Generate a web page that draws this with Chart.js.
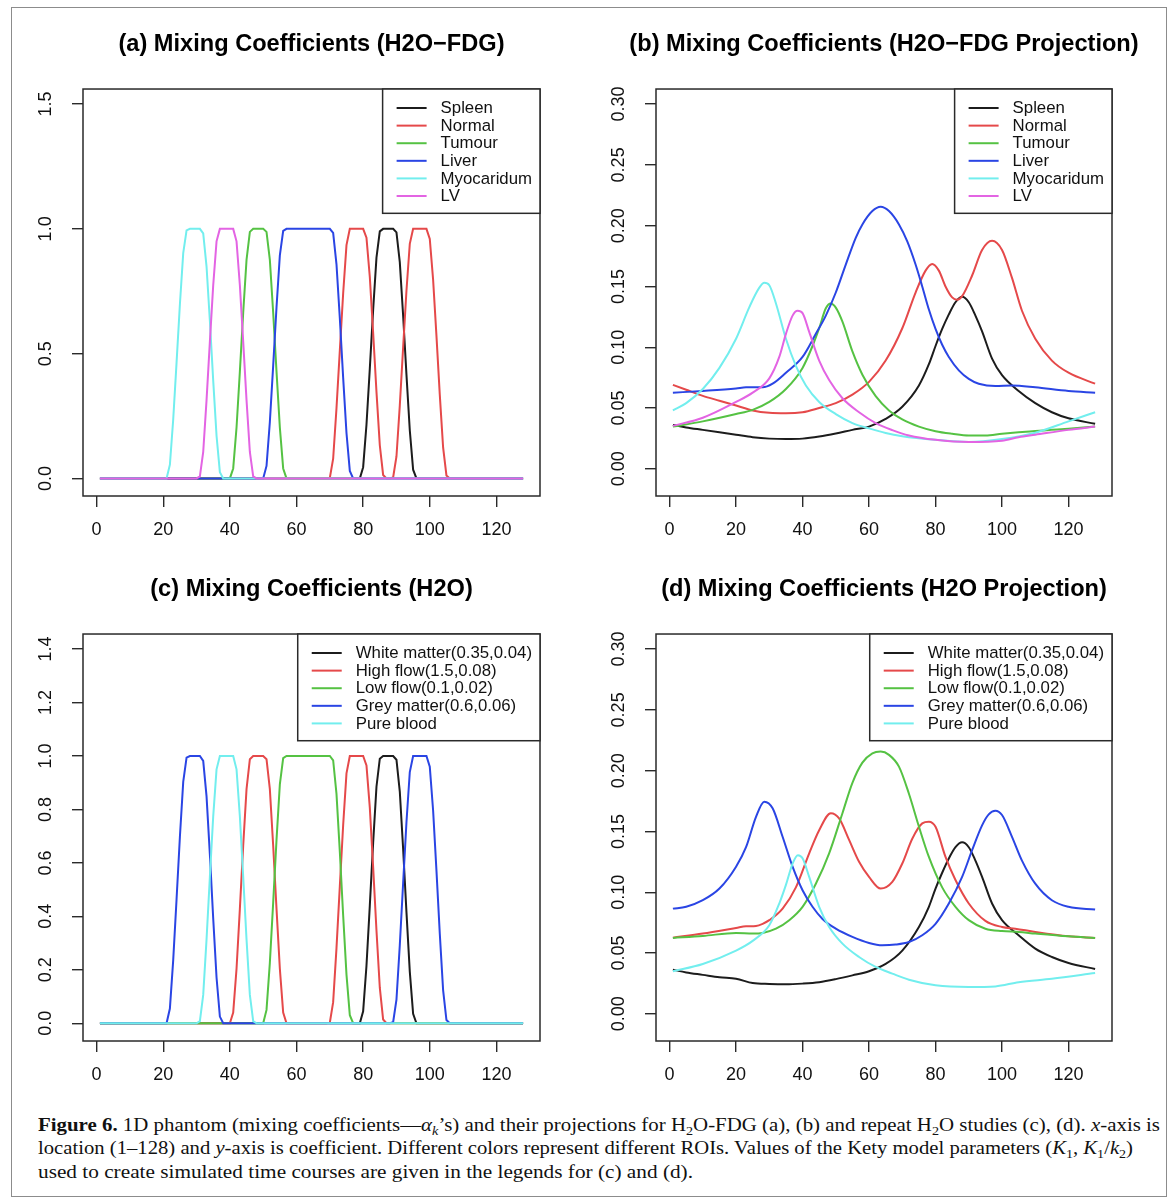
<!DOCTYPE html>
<html>
<head>
<meta charset="utf-8">
<script src="https://cdn.jsdelivr.net/npm/chart.js@4.4.1/dist/chart.umd.min.js"></script>
<style>
  html, body { margin: 0; padding: 0; background: #fff; }
  #page { position: relative; width: 1173px; height: 1200px; overflow: hidden; background: #fff; }
  #frame { position: absolute; left: 11px; top: 7px; width: 1154px; height: 1188px; border: 1.5px solid #8c8c8c; }
  canvas { position: absolute; }
  .cap { position: absolute; left: 38px; white-space: nowrap; font-family: 'Liberation Serif', 'Times New Roman', serif;
         font-size: 19px; line-height: 24px; color: #111; transform-origin: 0 50%; }
  .cap sub { font-size: 0.68em; vertical-align: -0.28em; line-height: 0; }
</style>
</head>
<body>
<div id="page">
  <div id="frame"></div>
  <canvas id="pa" width="617" height="545" style="left:3px;top:0px;width:617px;height:545px"></canvas>
  <canvas id="pb" width="616" height="545" style="left:576px;top:0px;width:616px;height:545px"></canvas>
  <canvas id="pc" width="617" height="545" style="left:3px;top:545px;width:617px;height:545px"></canvas>
  <canvas id="pd" width="616" height="545" style="left:576px;top:545px;width:616px;height:545px"></canvas>
  <div class="cap" id="cap1" data-w="1122" style="top:1113px"><b>Figure 6.</b> 1D phantom (mixing coefficients—<i>α</i><sub><i>k</i></sub>’s) and their projections for H<sub>2</sub>O-FDG (a), (b) and repeat H<sub>2</sub>O studies (c), (d). <i>x</i>-axis is</div>
  <div class="cap" id="cap2" data-w="1095" style="top:1136px">location (1–128) and <i>y</i>-axis is coefficient. Different colors represent different ROIs. Values of the Kety model parameters (<i>K</i><sub>1</sub>, <i>K</i><sub>1</sub>/<i>k</i><sub>2</sub>)</div>
  <div class="cap" id="cap3" data-w="655" style="top:1160px">used to create simulated time courses are given in the legends for (c) and (d).</div>
</div>
<script>
// ---------- axis ticks ----------
const xTicks = [0, 20, 40, 60, 80, 100, 120];
const xTickLabels = ['0', '20', '40', '60', '80', '100', '120'];
const yTicksA = [0, 0.5, 1.0, 1.5];
const yTickLabelsA = ['0.0', '0.5', '1.0', '1.5'];
const yTicksC = [0, 0.2, 0.4, 0.6, 0.8, 1.0, 1.2, 1.4];
const yTickLabelsC = ['0.0', '0.2', '0.4', '0.6', '0.8', '1.0', '1.2', '1.4'];
const yTicksProj = [0, 0.05, 0.10, 0.15, 0.20, 0.25, 0.30];
const yTickLabelsProj = ['0.00', '0.05', '0.10', '0.15', '0.20', '0.25', '0.30'];

// ---------- legend labels ----------
const labelsFDG = ['Spleen', 'Normal', 'Tumour', 'Liver', 'Myocaridum', 'LV'];
const labelsH2O = ['White matter(0.35,0.04)', 'High flow(1.5,0.08)', 'Low flow(0.1,0.02)', 'Grey matter(0.6,0.06)', 'Pure blood'];
const seriesColors = ['#1c1c1c', '#e5494a', '#55c243', '#2a45e4', '#72eeee', '#e364e3'];

// ---------- (a) mixing coefficients, H2O-FDG  [location, coefficient] ----------
const spleenA = [[1,0],[79,0],[80,0.045],[81,0.215],[82,0.44],[83,0.675],[84,0.885],[85,0.99],[86,1],[87,1],[88,1],[89,1],[90,0.986],[91,0.867],[92,0.653],[93,0.416],[94,0.193],[95,0.035],[96,0],[128,0]];
const normalA = [[1,0],[69,0],[70,0.002],[71,0.079],[72,0.281],[73,0.512],[74,0.741],[75,0.935],[76,1],[77,1],[78,1],[79,1],[80,1],[81,0.965],[82,0.807],[83,0.584],[84,0.347],[85,0.133],[86,0.014],[87,0],[88,0],[89,0.004],[90,0.088],[91,0.292],[92,0.524],[93,0.752],[94,0.94],[95,1],[96,1],[97,1],[98,1],[99,1],[100,0.96],[101,0.796],[102,0.572],[103,0.336],[104,0.124],[105,0.012],[106,0],[128,0]];
const tumourA = [[1,0],[40,0],[41,0.04],[42,0.204],[43,0.428],[44,0.664],[45,0.876],[46,0.988],[47,1],[48,1],[49,1],[50,1],[51,0.988],[52,0.876],[53,0.664],[54,0.428],[55,0.204],[56,0.04],[57,0],[128,0]];
const liverA = [[1,0],[50,0],[51,0.05],[52,0.226],[53,0.452],[54,0.686],[55,0.894],[56,0.992],[57,1],[70,1],[71,0.984],[72,0.858],[73,0.642],[74,0.404],[75,0.182],[76,0.03],[77,0],[128,0]];
const myocardA = [[1,0],[21,0],[22,0.055],[23,0.237],[24,0.464],[25,0.697],[26,0.903],[27,0.994],[28,1],[29,1],[30,1],[31,1],[32,0.982],[33,0.849],[34,0.631],[35,0.392],[36,0.171],[37,0.025],[38,0],[128,0]];
const lvA = [[1,0],[30,0],[31,0.008],[32,0.106],[33,0.314],[34,0.548],[35,0.774],[36,0.95],[37,1],[38,1],[39,1],[40,1],[41,1],[42,0.95],[43,0.774],[44,0.548],[45,0.314],[46,0.106],[47,0.008],[48,0],[128,0]];

// ---------- (b) projection, H2O-FDG ----------
const spleenB = [[1,0.036],[5,0.034],[10,0.032],[15,0.030],[20,0.028],[25,0.026],[30,0.0248],[35,0.0244],[40,0.0248],[45,0.0265],[50,0.029],[55,0.032],[60,0.0347],[65,0.041],[70,0.051],[75,0.0685],[78,0.086],[80,0.101],[82,0.115],[84,0.127],[86,0.137],[88,0.1415],[90,0.137],[92,0.126],[94,0.113],[97,0.0906],[100,0.077],[105,0.064],[110,0.054],[115,0.0465],[120,0.0415],[128,0.037]];
const normalB = [[1,0.069],[5,0.065],[10,0.060],[15,0.056],[20,0.052],[25,0.048],[30,0.046],[35,0.0456],[40,0.0465],[45,0.050],[50,0.054],[55,0.061],[60,0.0715],[65,0.089],[70,0.1156],[74,0.145],[77,0.163],[79,0.1685],[81,0.163],[83,0.150],[85,0.141],[86.5,0.139],[88,0.142],[91,0.159],[94,0.180],[97,0.1876],[100,0.180],[103,0.157],[106,0.130],[110,0.107],[115,0.089],[120,0.079],[128,0.070]];
const tumourB = [[1,0.0347],[10,0.039],[20,0.045],[25,0.0485],[30,0.055],[35,0.0656],[40,0.083],[43,0.101],[45,0.1156],[47,0.132],[48.5,0.136],[50,0.1326],[52,0.121],[55,0.0965],[58,0.0774],[62,0.0597],[66,0.048],[70,0.0406],[75,0.0347],[80,0.0309],[85,0.0288],[90,0.0274],[95,0.0274],[100,0.0288],[105,0.030],[110,0.031],[115,0.032],[120,0.033],[128,0.0347]];
const liverB = [[1,0.0626],[10,0.064],[20,0.066],[23,0.067],[28,0.067],[31,0.070],[35,0.079],[40,0.092],[44,0.111],[47,0.126],[50,0.145],[53,0.168],[56,0.19],[58,0.201],[61,0.212],[63.5,0.2156],[66,0.212],[69,0.201],[71.5,0.187],[74,0.168],[76,0.15],[78,0.131],[80,0.115],[82,0.102],[84,0.092],[87,0.081],[90,0.074],[93,0.070],[98,0.068],[103,0.0685],[110,0.067],[120,0.064],[128,0.0626]];
const myocardB = [[1,0.048],[5,0.054],[10,0.0656],[15,0.083],[20,0.107],[24,0.133],[27,0.149],[28.5,0.153],[30,0.151],[32,0.136],[35,0.107],[38,0.0847],[41,0.0685],[45,0.055],[50,0.045],[55,0.0376],[60,0.0332],[65,0.0294],[70,0.0268],[80,0.0238],[90,0.022],[100,0.0244],[110,0.0297],[120,0.039],[128,0.0465]];
const lvB = [[1,0.0353],[10,0.042],[20,0.055],[25,0.0626],[30,0.0744],[33,0.092],[35,0.111],[37,0.126],[38.5,0.130],[40,0.128],[42,0.1126],[45,0.089],[48,0.073],[52,0.058],[57,0.0465],[62,0.0376],[67,0.0318],[72,0.0274],[80,0.0238],[90,0.022],[100,0.023],[105,0.026],[110,0.028],[120,0.032],[128,0.0347]];

// ---------- (c) mixing coefficients, H2O ----------
const whiteC = [[1,0],[79,0],[80,0.045],[81,0.215],[82,0.44],[83,0.675],[84,0.885],[85,0.99],[86,1],[87,1],[88,1],[89,1],[90,0.986],[91,0.867],[92,0.653],[93,0.416],[94,0.193],[95,0.035],[96,0],[128,0]];
const highC = [[1,0],[40,0],[41,0.04],[42,0.204],[43,0.428],[44,0.664],[45,0.876],[46,0.988],[47,1],[48,1],[49,1],[50,1],[51,0.988],[52,0.876],[53,0.664],[54,0.428],[55,0.204],[56,0.04],[57,0],[69,0],[70,0.002],[71,0.079],[72,0.281],[73,0.512],[74,0.741],[75,0.935],[76,1],[77,1],[78,1],[79,1],[80,1],[81,0.965],[82,0.807],[83,0.584],[84,0.347],[85,0.133],[86,0.014],[87,0],[128,0]];
const lowC = [[1,0],[50,0],[51,0.05],[52,0.226],[53,0.452],[54,0.686],[55,0.894],[56,0.992],[57,1],[70,1],[71,0.984],[72,0.858],[73,0.642],[74,0.404],[75,0.182],[76,0.03],[77,0],[128,0]];
const greyC = [[1,0],[21,0],[22,0.055],[23,0.237],[24,0.464],[25,0.697],[26,0.903],[27,0.994],[28,1],[29,1],[30,1],[31,1],[32,0.982],[33,0.849],[34,0.631],[35,0.392],[36,0.171],[37,0.025],[38,0],[88,0],[89,0.004],[90,0.088],[91,0.292],[92,0.524],[93,0.752],[94,0.94],[95,1],[96,1],[97,1],[98,1],[99,1],[100,0.96],[101,0.796],[102,0.572],[103,0.336],[104,0.124],[105,0.012],[106,0],[128,0]];
const bloodC = [[1,0],[30,0],[31,0.008],[32,0.106],[33,0.314],[34,0.548],[35,0.774],[36,0.95],[37,1],[38,1],[39,1],[40,1],[41,1],[42,0.95],[43,0.774],[44,0.548],[45,0.314],[46,0.106],[47,0.008],[48,0],[128,0]];

// ---------- (d) projection, H2O ----------
const whiteD = [[1,0.0363],[5,0.034],[10,0.032],[15,0.030],[20,0.0288],[25,0.0253],[30,0.0245],[35,0.0242],[40,0.0248],[45,0.026],[50,0.0285],[55,0.0316],[60,0.035],[65,0.041],[70,0.052],[75,0.0714],[78,0.088],[80,0.103],[82,0.116],[84,0.1277],[86,0.137],[88,0.141],[90,0.137],[92,0.126],[94,0.1126],[97,0.0907],[100,0.077],[105,0.0646],[110,0.0536],[115,0.0467],[120,0.0418],[128,0.0368]];
const highD = [[1,0.0626],[10,0.066],[20,0.0706],[23,0.072],[26,0.0723],[28,0.074],[30,0.077],[34,0.0865],[38,0.104],[42,0.132],[45,0.151],[48.5,0.165],[51,0.1607],[54,0.143],[57,0.125],[60,0.1126],[63.5,0.103],[67,0.1085],[70,0.1236],[73,0.144],[76,0.1566],[78,0.158],[80,0.1538],[83,0.129],[86,0.11],[90,0.0907],[95,0.0764],[100,0.0714],[104,0.070],[110,0.0673],[120,0.0637],[128,0.0624]];
const lowD = [[1,0.0624],[10,0.064],[20,0.0665],[25,0.066],[28,0.0665],[32,0.070],[36,0.077],[40,0.088],[44,0.107],[48,0.132],[52,0.165],[55,0.19],[58,0.2066],[61,0.2143],[63.5,0.2157],[66,0.213],[69,0.2033],[72,0.181],[75,0.154],[78,0.129],[82,0.104],[86,0.088],[90,0.077],[95,0.070],[100,0.068],[105,0.0673],[110,0.066],[120,0.0637],[128,0.0624]];
const greyD = [[1,0.0865],[5,0.088],[10,0.0934],[15,0.103],[20,0.121],[23,0.137],[26,0.162],[28.5,0.1745],[31,0.169],[34,0.1456],[37,0.121],[40,0.1016],[43,0.088],[46,0.078],[50,0.070],[55,0.0632],[60,0.0582],[64,0.0563],[68,0.0569],[72,0.059],[76,0.0646],[80,0.074],[84,0.0907],[88,0.1126],[91,0.1346],[94,0.155],[96,0.164],[98,0.167],[100,0.1635],[103,0.1456],[106,0.126],[110,0.107],[115,0.0934],[120,0.088],[128,0.0857]];
const bloodD = [[1,0.035],[10,0.041],[20,0.052],[25,0.060],[30,0.0728],[33,0.0907],[35,0.106],[37,0.1236],[38.6,0.1305],[40,0.128],[42,0.1126],[45,0.088],[48,0.0714],[52,0.0577],[57,0.0467],[62,0.0385],[67,0.033],[72,0.028],[80,0.0234],[90,0.022],[98,0.0225],[105,0.026],[115,0.0288],[128,0.0335]];

// ---------- drawing ----------
const SANS = "'Liberation Sans', Arial, Helvetica, sans-serif";
const INK = '#111';

// closed box around the plotting region, drawn over the curves
const framePlugin = {
  id: 'frameBox',
  afterDatasetsDraw(chart) {
    const a = chart.chartArea, ctx = chart.ctx;
    ctx.save();
    ctx.strokeStyle = '#2a2a2a';
    ctx.lineWidth = 1.5;
    ctx.strokeRect(a.left, a.top, a.right - a.left, a.bottom - a.top);
    ctx.restore();
  }
};

// boxed legend anchored in the top-right corner of the plotting region
const boxLegendPlugin = {
  id: 'boxLegend',
  afterDraw(chart) {
    const a = chart.chartArea, ctx = chart.ctx;
    const sets = chart.data.datasets;
    const fontSize = 16.8, rowGap = 17.6;
    ctx.save();
    ctx.font = fontSize + 'px ' + SANS;
    let maxW = 0;
    sets.forEach(ds => { maxW = Math.max(maxW, ctx.measureText(ds.label).width); });
    const w = 58 + maxW + 8;
    const h = 19 + (sets.length - 1) * rowGap + 17.3;
    const left = a.right - w, top = a.top;
    ctx.fillStyle = '#fff';
    ctx.fillRect(left, top, w, h);
    ctx.strokeStyle = '#2a2a2a';
    ctx.lineWidth = 1.5;
    ctx.strokeRect(left, top, w, h);
    sets.forEach((ds, i) => {
      const y = top + 19 + i * rowGap;
      ctx.strokeStyle = ds.borderColor;
      ctx.lineWidth = 2;
      ctx.beginPath();
      ctx.moveTo(left + 14, y);
      ctx.lineTo(left + 44, y);
      ctx.stroke();
      ctx.fillStyle = INK;
      ctx.textAlign = 'left';
      ctx.textBaseline = 'middle';
      ctx.fillText(ds.label, left + 58, y + 0.5);
    });
    ctx.restore();
  }
};

function makePanel(id, spec) {
  const n = spec.series.length;
  const datasets = spec.series.map((pts, i) => ({
    label: spec.labels[i],
    data: pts.map(p => ({ x: p[0], y: p[1] })),
    borderColor: spec.colors[i],
    borderWidth: 2,
    pointRadius: 0,
    fill: false,
    cubicInterpolationMode: spec.smooth ? 'monotone' : 'default',
    tension: 0,
    order: n - 1 - i
  }));
  const tickFont = { family: SANS, size: 18 };
  const gridOpts = { drawOnChartArea: false, drawTicks: true, tickLength: 11, color: '#2a2a2a', lineWidth: 1.4 };
  return new Chart(document.getElementById(id), {
    type: 'line',
    data: { datasets },
    options: {
      responsive: false,
      animation: false,
      devicePixelRatio: 1,
      events: [],
      layout: { padding: 0 },
      plugins: {
        legend: { display: false },
        tooltip: { enabled: false },
        title: {
          display: true, text: spec.title, fullSize: true, color: '#000',
          font: { family: SANS, size: 23.6, weight: 'bold' },
          padding: { top: 30.8, bottom: 29.9 }
        }
      },
      scales: {
        x: {
          type: 'linear', min: -4.08, max: 133.08,
          afterBuildTicks: s => { s.ticks = xTicks.map(v => ({ value: v })); },
          afterFit: s => { s.height = 49; },
          grid: gridOpts, border: { display: false },
          ticks: { font: tickFont, color: INK, padding: 12.2, maxRotation: 0, autoSkip: false,
                   callback: v => xTickLabels[xTicks.indexOf(v)] }
        },
        y: {
          type: 'linear', min: spec.yMin, max: spec.yMax,
          afterBuildTicks: s => { s.ticks = spec.yTicks.map(v => ({ value: v })); },
          afterFit: s => { s.width = 80; },
          grid: gridOpts, border: { display: false },
          ticks: { font: tickFont, color: INK, padding: spec.yLabelPad, minRotation: 90, maxRotation: 90,
                   crossAlign: 'center', autoSkip: false,
                   callback: v => spec.yLabels[spec.yTicks.indexOf(v)] }
        },
        // empty right-hand margin so the panel title centres over the plotting region
        yPad: {
          type: 'linear', position: 'right', min: 0, max: 1,
          grid: { display: false }, border: { display: false }, ticks: { display: false },
          afterFit: s => { s.width = 80; }
        }
      }
    },
    plugins: [framePlugin, boxLegendPlugin]
  });
}

makePanel('pa', {
  title: '(a) Mixing Coefficients (H2O\u2212FDG)',
  series: [spleenA, normalA, tumourA, liverA, myocardA, lvA],
  labels: labelsFDG, colors: seriesColors, smooth: false,
  yMin: -0.0704, yMax: 1.5604, yTicks: yTicksA, yLabels: yTickLabelsA, yLabelPad: 13.5
});
makePanel('pb', {
  title: '(b) Mixing Coefficients (H2O\u2212FDG Projection)',
  series: [spleenB, normalB, tumourB, liverB, myocardB, lvB],
  labels: labelsFDG, colors: seriesColors, smooth: true,
  yMin: -0.0224, yMax: 0.3124, yTicks: yTicksProj, yLabels: yTickLabelsProj, yLabelPad: 8.5
});
makePanel('pc', {
  title: '(c) Mixing Coefficients (H2O)',
  series: [whiteC, highC, lowC, greyC, bloodC],
  labels: labelsH2O, colors: seriesColors.slice(0, 5), smooth: false,
  yMin: -0.0664, yMax: 1.4564, yTicks: yTicksC, yLabels: yTickLabelsC, yLabelPad: 13.5
});
makePanel('pd', {
  title: '(d) Mixing Coefficients (H2O Projection)',
  series: [whiteD, highD, lowD, greyD, bloodD],
  labels: labelsH2O, colors: seriesColors.slice(0, 5), smooth: true,
  yMin: -0.0224, yMax: 0.3124, yTicks: yTicksProj, yLabels: yTickLabelsProj, yLabelPad: 8.5
});

// caption lines are stretched to their set widths
document.querySelectorAll('.cap').forEach(el => {
  const natural = el.getBoundingClientRect().width;
  const target = parseFloat(el.dataset.w);
  el.style.transform = 'scaleX(' + (target / natural).toFixed(4) + ')';
});
</script>
</body>
</html>
